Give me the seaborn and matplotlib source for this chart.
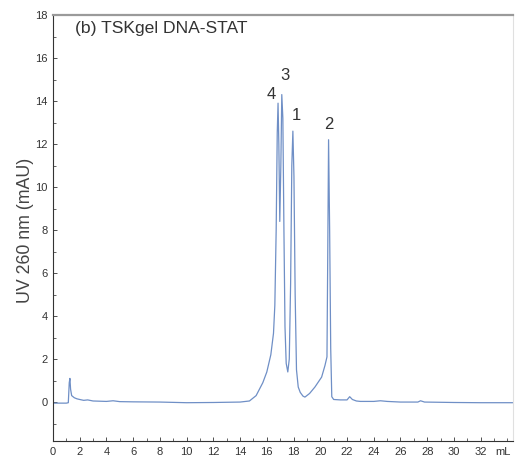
import numpy as np
import pandas as pd
import matplotlib
matplotlib.use("Agg")
import matplotlib.pyplot as plt
import seaborn as sns

# chromatogram trace (mL, mAU)
volume = [0.0, 1.0, 1.15, 1.22, 1.27, 1.32, 1.4, 1.6, 1.8, 2.0, 2.3, 2.6, 3.0,
          3.5, 4.0, 4.5, 5.0, 6.0, 8.0, 10.0, 12.0, 14.0, 14.7, 15.2, 15.7,
          16.0, 16.3, 16.5, 16.6, 16.7, 16.78, 16.84, 16.9, 16.97, 17.05,
          17.12, 17.2, 17.28, 17.36, 17.45, 17.57, 17.68, 17.78, 17.87, 17.95,
          18.03, 18.12, 18.22, 18.35, 18.5, 18.7, 18.85, 19.2, 19.6, 20.1,
          20.35, 20.5, 20.56, 20.62, 20.7, 20.78, 20.86, 21.0, 21.5, 22.0,
          22.2, 22.4, 22.7, 23.0, 24.0, 24.5, 25.0, 26.0, 27.3, 27.5, 27.8,
          30.0, 32.0, 34.4]
uv = [-0.05, -0.05, -0.03, 0.9, 1.1, 0.6, 0.3, 0.2, 0.15, 0.12, 0.08, 0.1,
      0.05, 0.04, 0.03, 0.06, 0.02, 0.01, 0.0, -0.03, -0.02, 0.0, 0.05, 0.3,
      0.9, 1.4, 2.2, 3.2, 4.5, 8.0, 12.5, 13.9, 12.0, 8.4, 11.0, 14.3, 13.2,
      8.0, 3.5, 1.8, 1.4, 2.0, 5.5, 11.0, 12.6, 10.5, 5.0, 1.5, 0.7, 0.45,
      0.28, 0.23, 0.4, 0.7, 1.16, 1.7, 2.1, 7.0, 12.2, 8.0, 2.5, 0.25, 0.12,
      0.1, 0.1, 0.25, 0.12, 0.05, 0.03, 0.03, 0.06, 0.03, 0.0, 0.0, 0.06,
      0.0, -0.02, -0.03, -0.03]

peak_labels = ["4", "3", "1", "2"]
peak_x = [16.3, 17.35, 18.2, 20.65]
peak_y = [14.3, 15.2, 13.35, 12.9]

xtick_vals = list(range(0, 33, 2))

df = pd.DataFrame({"mL": volume, "mAU": uv})

sns.set_style("ticks")
plt.rcParams["font.family"] = ["Liberation Sans", "DejaVu Sans"]

fig = plt.figure(figsize=(5.19, 4.62), dpi=100)
ax = fig.add_axes([0.102, 0.0455, 0.886, 0.922])

sns.lineplot(data=df, x="mL", y="mAU", ax=ax, color="#6f8fc6", linewidth=0.9)

ax.set_xlim(0, 34.4)
ax.set_ylim(-1.81, 18)
ax.set_xticks(xtick_vals)
ax.set_xticks(np.arange(0, 35, 1), minor=True)
ax.set_yticks(np.arange(0, 19, 2))
ax.set_yticks(np.arange(-1, 19, 1), minor=True)
ax.tick_params(axis="both", which="major", direction="in", length=3,
               width=0.6, labelsize=8, colors="#333333", pad=4)
ax.tick_params(axis="both", which="minor", direction="in", length=2,
               width=0.5)
ax.set_xlabel("")
ax.set_ylabel("UV 260 nm (mAU)", fontsize=12.8, color="#444444")
ax.yaxis.set_label_coords(-0.041, 0.495)

ax.annotate("mL", xy=(33.7, 0), xycoords=ax.get_xaxis_transform(),
            xytext=(0, -4), textcoords="offset points",
            ha="center", va="top", fontsize=8, color="#333333")

for s in ["left", "bottom"]:
    ax.spines[s].set_color("#333333")
    ax.spines[s].set_linewidth(0.8)
ax.spines["top"].set_color("#9a9a9a")
ax.spines["top"].set_linewidth(1.6)
ax.spines["right"].set_color("#e0e0e0")
ax.spines["right"].set_linewidth(0.8)

ax.text(1.65, 17.35, "(b) TSKgel DNA-STAT", fontsize=12.6, color="#333333",
        ha="left", va="center")
for lab, x, y in zip(peak_labels, peak_x, peak_y):
    ax.text(x, y, lab, fontsize=12, color="#333333", ha="center", va="center")

fig.savefig("out.png", dpi=100)
